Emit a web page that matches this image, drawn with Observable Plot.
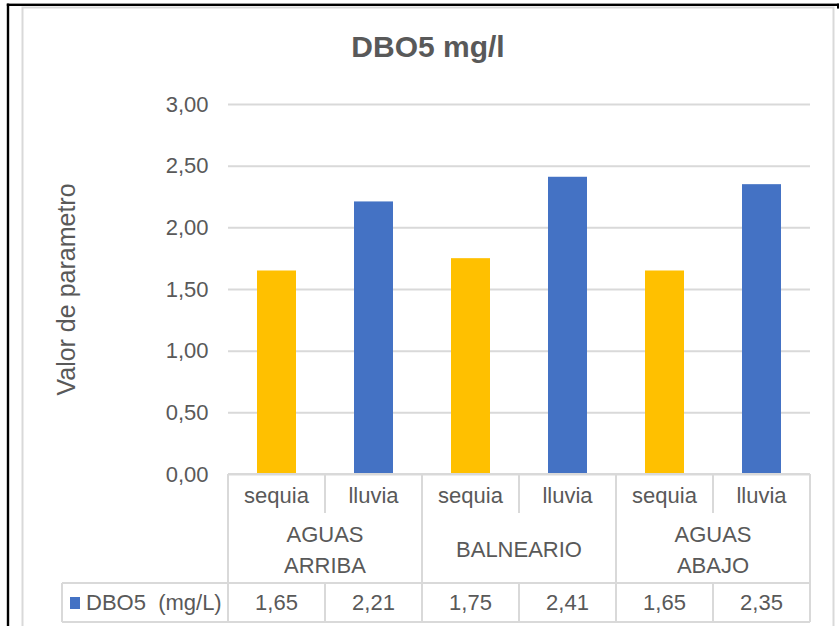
<!DOCTYPE html>
<html><head><meta charset="utf-8">
<script src="https://cdn.jsdelivr.net/npm/d3@7"></script>
<script src="https://cdn.jsdelivr.net/npm/@observablehq/plot@0.6"></script>
<style>
html,body{margin:0;padding:0;background:#fff;overflow:hidden;}
#chart svg{display:block;}
svg text{white-space:pre;}
</style>
</head><body><div id="chart"></div>
<script>
// ---- data ----
const chartTitle = "DBO5 mg/l";
const yLabel = "Valor de parametro";
const sites = ["AGUAS\nARRIBA", "BALNEARIO", "AGUAS\nABAJO"];
const seasons = ["sequia", "lluvia"];
const seriesName = "DBO5  (mg/L)";
const sequiaValues = [1.65, 1.75, 1.65];
const lluviaValues = [2.21, 2.41, 2.35];
const seasonColors = ["#FFC000", "#4472C4"];
const legendColor = "#4472C4";
const textColor = "#595959";
const lineColor = "#d9d9d9";

const data = sites.flatMap((s, i) => [
  {site: s, season: "sequia", value: sequiaValues[i]},
  {site: s, season: "lluvia", value: lluviaValues[i]}
]).map(d => ({...d, key: d.site + "|" + d.season}));
const fmt = v => v.toFixed(2).replace(".", ",");

const W = 839, H = 626;
const chart = Plot.plot({
  width: W, height: H,
  marginLeft: 228, marginRight: 29, marginTop: 104, marginBottom: 152,
  style: {fontFamily: "'Liberation Sans', Arial, sans-serif", fontSize: "22px", color: textColor, background: "white", overflow: "visible"},
  x: {domain: data.map(d => d.key), padding: 0, axis: null},
  y: {domain: [0, 3], ticks: 6, tickFormat: fmt, tickSize: 0, tickPadding: 20, label: null},
  color: {domain: seasons, range: seasonColors},
  marks: [
    Plot.ruleY(d3.ticks(0, 3, 6), {stroke: lineColor, strokeWidth: 2}),
    Plot.barY(data, {x: "key", y: "value", fill: "season", insetLeft: 29, insetRight: 29}),
    Plot.text([yLabel], {frameAnchor: "left", textAnchor: "middle", rotate: -90, dx: -162, fontSize: 25, fill: textColor})
  ]
});
document.getElementById("chart").appendChild(chart);

// ---- chrome + data table drawn with Plot's own scales ----
const svgSel = d3.select(chart);
const xs = chart.scale("x"), ys = chart.scale("y");
const bw = xs.bandwidth;
const y0 = ys.apply(0);
const xL = xs.apply(data[0].key), xR = xs.apply(data[data.length - 1].key) + bw;
const legendLeft = 62;
const r1 = y0 + 39, r2 = y0 + 109, r3 = y0 + 148;

const bgG = svgSel.insert("g", ":first-child");
bgG.append("rect").attr("x", 0).attr("y", 0).attr("width", W).attr("height", H).attr("fill", "white");
bgG.append("rect").attr("x", 22.5).attr("y", 7.5).attr("width", 811).attr("height", 640)
  .attr("fill", "white").attr("stroke", lineColor).attr("stroke-width", 2);

const fg = svgSel.append("g");
// black frame of the surrounding document table
fg.append("rect").attr("x", 6.8).attr("y", 3.6).attr("width", 2.4).attr("height", H).attr("fill", "black");
fg.append("rect").attr("x", 6.8).attr("y", 3.6).attr("width", W - 6.8).attr("height", 2.4).attr("fill", "black");
fg.append("rect").attr("x", 837).attr("y", 3.6).attr("width", 2).attr("height", 5).attr("fill", "black");

// title
fg.append("text").attr("x", (22 + 834) / 2).attr("y", 57).attr("text-anchor", "middle")
  .attr("font-size", 30).attr("font-weight", "bold").attr("fill", textColor).text(chartTitle);

// table lines
const tl = fg.append("g").attr("stroke", lineColor).attr("stroke-width", 2);
const hline = (x1, x2, y) => tl.append("line").attr("x1", x1).attr("x2", x2).attr("y1", y).attr("y2", y);
const vline = (x, y1, y2) => tl.append("line").attr("x1", x).attr("x2", x).attr("y1", y1).attr("y2", y2);
hline(xL, xR, y0);
hline(legendLeft, xR, r2);
hline(legendLeft, xR, r3);
vline(legendLeft, r2, r3);
sites.forEach(s => {
  const a = xs.apply(s + "|sequia"), b = xs.apply(s + "|lluvia");
  vline(a, y0, r3);
  vline(b, y0, r1);
  vline(b, r2, r3);
});
vline(xR, y0, r3);

// table text
const tt = fg.append("g").attr("fill", textColor).attr("font-size", 22).attr("text-anchor", "middle");
data.forEach(d => {
  const cx = xs.apply(d.key) + bw / 2;
  tt.append("text").attr("x", cx).attr("y", y0 + 29).text(d.season);
  tt.append("text").attr("x", cx).attr("y", r3 - 12).text(fmt(d.value));
});
sites.forEach(s => {
  const cx = xs.apply(s + "|lluvia");
  const lines = s.split("\n");
  lines.forEach((ln, i) => {
    tt.append("text").attr("x", cx).attr("y", y0 + 83 + (i - (lines.length - 1) / 2) * 31).text(ln);
  });
});
// legend key in data row
fg.append("rect").attr("x", legendLeft + 8).attr("y", r2 + 14).attr("width", 10).attr("height", 12).attr("fill", legendColor);
fg.append("text").attr("x", legendLeft + 24).attr("y", r3 - 12).attr("text-anchor", "start")
  .attr("font-size", 22).attr("fill", textColor).text(seriesName);
</script>
</body></html>
